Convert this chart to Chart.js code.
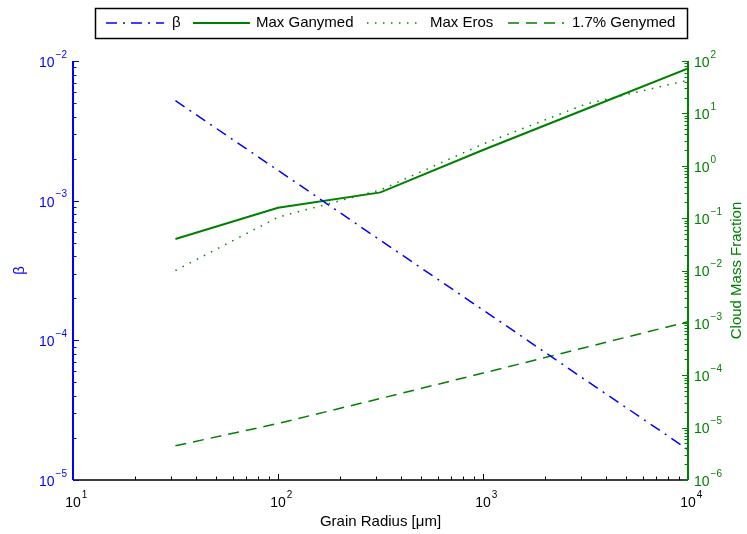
<!DOCTYPE html>
<html lang="en">
<head>
<meta charset="UTF-8">
<script src="https://cdn.jsdelivr.net/npm/chart.js@4.4.1/dist/chart.umd.min.js"></script>
<title>Grain Radius</title>
<style>
    body { margin: 0; background: #fff; }
</style>
</head>
<body>
<canvas id="myChart" width="747" height="534"></canvas>
<script>
    // grain radius [um] and the four curves
    const radius = [31.6, 100, 316, 1000, 3162, 10000];
    const beta = [5.2e-3, 1.65e-3, 5.2e-4, 1.65e-4, 5.2e-5, 1.65e-5];
    const maxGanymed = [0.04, 0.158, 0.31, 2.0, 12, 72];
    const maxEros = [0.01, 0.104, 0.345, 2.6, 15, 43];
    const genymed17 = [4.5e-6, 1.2e-5, 3.6e-5, 1.1e-4, 3.4e-4, 1.05e-3];

    // decade exponents for the tick labels
    const xExp = [1, 2, 3, 4];
    const betaExp = [-5, -4, -3, -2];
    const massExp = [-6, -5, -4, -3, -2, -1, 0, 1, 2];

    const BLUE = '#0000ff';
    const GREEN = '#008000';
    const FONT = '"Liberation Sans", Arial, sans-serif';

    var pts = function (ys) {
        return radius.map(function (r, i) { return { x: r, y: ys[i] }; });
    };

    // 10^n written as base + raised exponent
    var f_pow = function (ctx, x, y, n, align, color) {
        var base = '10', ex = String(n).replace('-', '\u2212');
        ctx.font = '14px ' + FONT;
        var wb = ctx.measureText(base).width;
        ctx.font = '10px ' + FONT;
        var we = ctx.measureText(ex).width;
        var x0;
        if (align === 'right') x0 = x - wb - we - 1;
        else if (align === 'left') x0 = x;
        else x0 = x - wb / 2;
        ctx.fillStyle = color;
        ctx.textAlign = 'left';
        ctx.textBaseline = 'middle';
        ctx.font = '14px ' + FONT;
        ctx.fillText(base, x0, y + 2);
        ctx.font = '10px ' + FONT;
        ctx.fillText(ex, x0 + wb + 1, y - 6);
    };

    var f_logTicks = function (lo, hi) {
        var out = [];
        for (var e = lo; e <= hi; e++) {
            for (var k = 1; k <= 9; k++) {
                if (e === hi && k > 1) break;
                out.push({ v: k * Math.pow(10, e), major: k === 1 });
            }
        }
        return out;
    };

    const axesPlugin = {
        id: 'matlabAxes',
        afterDraw: function (chart) {
            var ctx = chart.ctx, a = chart.chartArea;
            var sx = chart.scales.x, sy = chart.scales.y, sy2 = chart.scales.y2;
            ctx.save();

            // bottom axis
            ctx.strokeStyle = '#000';
            ctx.lineWidth = 1.5;
            ctx.beginPath();
            ctx.moveTo(a.left, a.bottom);
            ctx.lineTo(a.right, a.bottom);
            ctx.stroke();
            ctx.lineWidth = 1;
            f_logTicks(xExp[0], xExp[xExp.length - 1]).forEach(function (t) {
                var px = Math.round(sx.getPixelForValue(t.v)) + 0.5;
                ctx.beginPath();
                ctx.moveTo(px, a.bottom);
                ctx.lineTo(px, a.bottom - (t.major ? 6 : 3.5));
                ctx.stroke();
            });
            xExp.forEach(function (n) {
                f_pow(ctx, sx.getPixelForValue(Math.pow(10, n)), a.bottom + 21, n, 'center', '#000');
            });

            // left axis (beta)
            ctx.strokeStyle = BLUE;
            ctx.lineWidth = 2;
            ctx.beginPath();
            ctx.moveTo(a.left, a.top);
            ctx.lineTo(a.left, a.bottom);
            ctx.stroke();
            ctx.lineWidth = 1;
            f_logTicks(betaExp[0], betaExp[betaExp.length - 1]).forEach(function (t) {
                var py = Math.round(sy.getPixelForValue(t.v)) + 0.5;
                ctx.beginPath();
                ctx.moveTo(a.left, py);
                ctx.lineTo(a.left + (t.major ? 6 : 3.5), py);
                ctx.stroke();
            });
            betaExp.forEach(function (n) {
                f_pow(ctx, a.left - 6, sy.getPixelForValue(Math.pow(10, n)), n, 'right', BLUE);
            });

            // right axis (cloud mass fraction)
            ctx.strokeStyle = GREEN;
            ctx.lineWidth = 2;
            ctx.beginPath();
            ctx.moveTo(a.right, a.top);
            ctx.lineTo(a.right, a.bottom);
            ctx.stroke();
            ctx.lineWidth = 1;
            f_logTicks(massExp[0], massExp[massExp.length - 1]).forEach(function (t) {
                var py = Math.round(sy2.getPixelForValue(t.v)) + 0.5;
                ctx.beginPath();
                ctx.moveTo(a.right, py);
                ctx.lineTo(a.right - (t.major ? 6 : 3.5), py);
                ctx.stroke();
            });
            massExp.forEach(function (n) {
                f_pow(ctx, a.right + 6, sy2.getPixelForValue(Math.pow(10, n)), n, 'left', GREEN);
            });

            // axis titles
            ctx.textAlign = 'center';
            ctx.textBaseline = 'middle';
            ctx.font = '15px ' + FONT;
            ctx.fillStyle = '#000';
            ctx.fillText('Grain Radius [\u03bcm]', (a.left + a.right) / 2, 522);

            ctx.save();
            ctx.translate(20, (a.top + a.bottom) / 2);
            ctx.rotate(-Math.PI / 2);
            ctx.fillStyle = BLUE;
            ctx.fillText('\u03b2', 0, 0);
            ctx.restore();

            ctx.save();
            ctx.translate(737, (a.top + a.bottom) / 2);
            ctx.rotate(-Math.PI / 2);
            ctx.fillStyle = GREEN;
            ctx.fillText('Cloud Mass Fraction', 0, 0);
            ctx.restore();

            // legend box
            var ly = 23;
            ctx.fillStyle = '#fff';
            ctx.fillRect(95, 8, 592, 30);
            ctx.strokeStyle = '#000';
            ctx.lineWidth = 1.5;
            ctx.strokeRect(95.5, 8.5, 592, 30);
            var items = [[106, 164, 172], [193, 250, 256], [367, 422, 430], [508, 564, 572]];
            chart.data.datasets.forEach(function (ds, i) {
                var it = items[i];
                ctx.strokeStyle = ds.borderColor;
                ctx.lineWidth = ds.borderWidth;
                ctx.setLineDash(ds.borderDash || []);
                ctx.beginPath();
                ctx.moveTo(it[0], ly);
                ctx.lineTo(it[1], ly);
                ctx.stroke();
                ctx.setLineDash([]);
                ctx.fillStyle = '#000';
                ctx.textAlign = 'left';
                ctx.font = '15px ' + FONT;
                ctx.fillText(ds.label, it[2], ly);
            });

            ctx.restore();
        }
    };

    const ctx = document.getElementById('myChart').getContext('2d');
    const myChart = new Chart(ctx, {
        type: 'line',
        data: {
            datasets: [{
                label: '\u03b2',
                data: pts(beta),
                yAxisID: 'y',
                borderColor: BLUE,
                borderWidth: 1.5,
                borderDash: [11, 6, 2, 6]
            }, {
                label: 'Max Ganymed',
                data: pts(maxGanymed),
                yAxisID: 'y2',
                borderColor: GREEN,
                borderWidth: 2
            }, {
                label: 'Max Eros',
                data: pts(maxEros),
                yAxisID: 'y2',
                borderColor: GREEN,
                borderWidth: 1.5,
                borderDash: [1.5, 6.5]
            }, {
                label: '1.7% Genymed',
                data: pts(genymed17),
                yAxisID: 'y2',
                borderColor: GREEN,
                borderWidth: 1.5,
                borderDash: [11, 7]
            }]
        },
        options: {
            responsive: false,
            animation: false,
            elements: { point: { radius: 0 }, line: { tension: 0 } },
            layout: { padding: { left: 73, top: 61, right: 59, bottom: 54 } },
            plugins: { legend: { display: false }, tooltip: { enabled: false } },
            scales: {
                x: { type: 'logarithmic', min: 10, max: 10000, display: false },
                y: { type: 'logarithmic', position: 'left', min: 1e-5, max: 1e-2, display: false },
                y2: { type: 'logarithmic', position: 'right', min: 1e-6, max: 1e2, display: false }
            }
        },
        plugins: [axesPlugin]
    });
</script>
</body>
</html>
